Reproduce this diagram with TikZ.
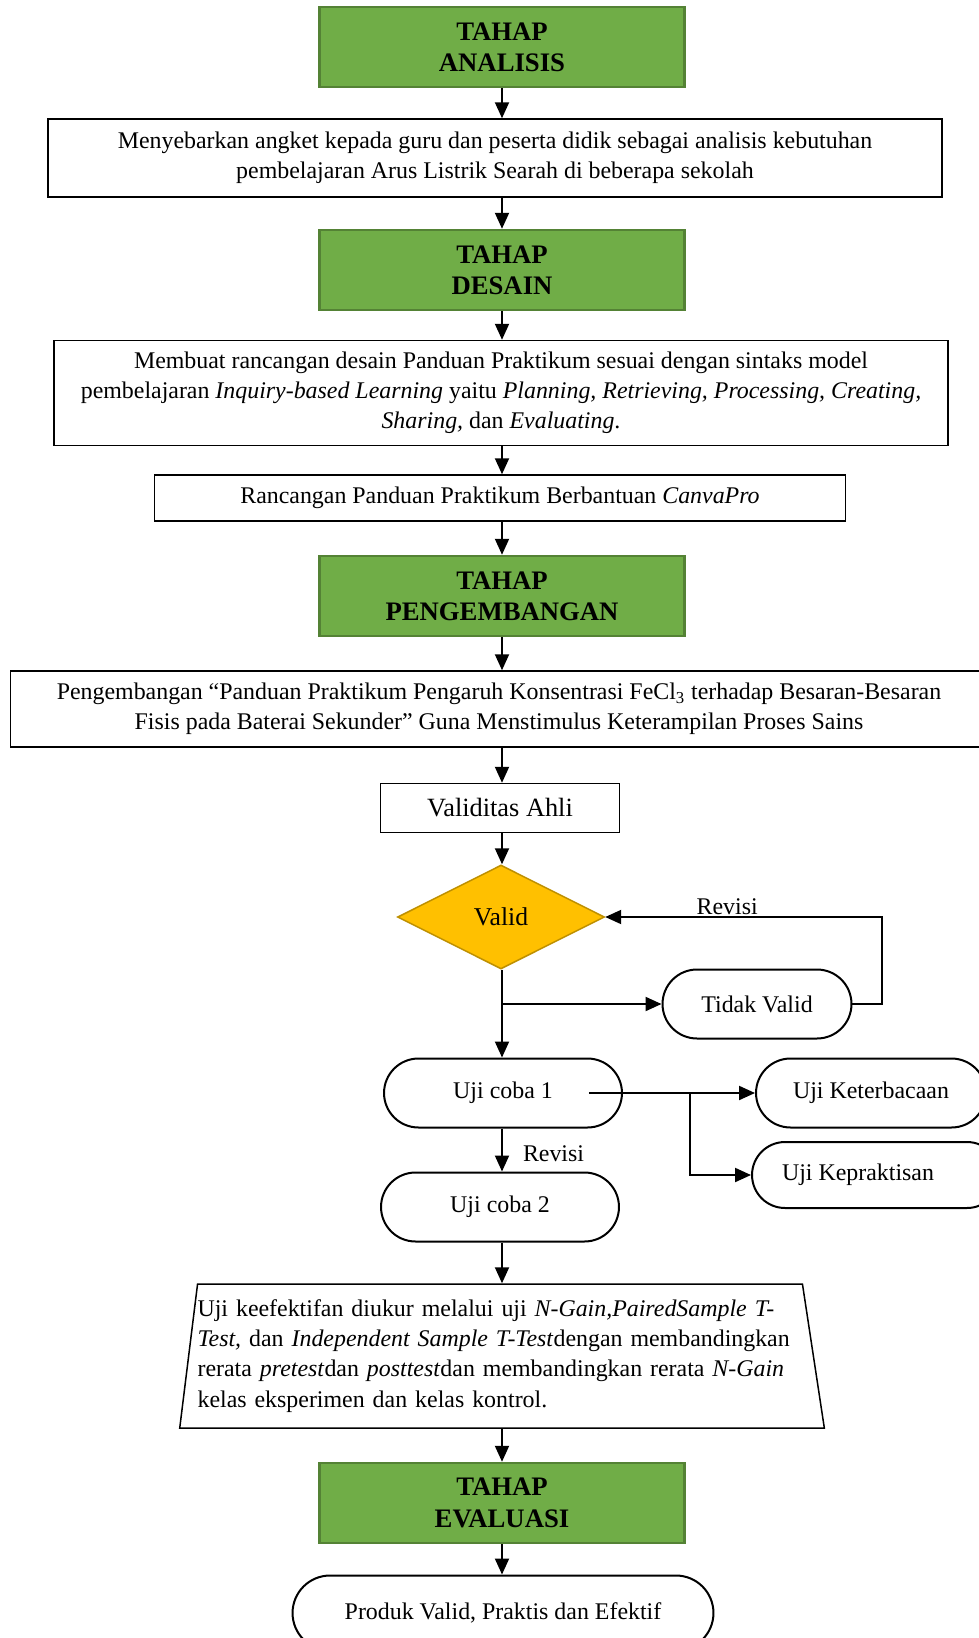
\documentclass[tikz,border=0pt]{standalone}
\usepackage{fontspec}
\setmainfont{Liberation Serif}
\usepackage{tikz}
\usetikzlibrary{arrows.meta}
\usetikzlibrary{shapes.geometric}
\usetikzlibrary{shapes.misc}
\definecolor{tahapfill}{HTML}{70AD47}
\definecolor{tahapline}{HTML}{548235}
\definecolor{validfill}{HTML}{FFC000}
\definecolor{validline}{HTML}{BF9000}
\tikzset{
    base/.style = {font=\fontsize{13.6}{17.2}\selectfont, align=center, inner sep=0},
    lbl/.style = {font=\fontsize{13.6}{17.2}\selectfont, inner sep=0},
    tahap/.style = {base, draw=tahapline, fill=tahapfill, line width=0.05cm, minimum width=7.3cm, minimum height=1.6cm, font=\fontsize{15.2}{17.8}\selectfont\bfseries},
    kotak/.style = {base, draw, line width=0.03cm},
    terminal/.style = {base, draw, shape=rounded rectangle, line width=0.04cm, minimum width=4.76cm, minimum height=1.38cm},
    putusan/.style = {base, draw=validline, fill=validfill, shape=diamond, line width=0.03cm, minimum width=4.14cm, minimum height=2.08cm, font=\fontsize{14.6}{17}\selectfont},
    arr/.style = {line width=0.04cm, -{Triangle[length=0.32cm,width=0.28cm]}}
}

\begin{document}
\begin{tikzpicture}[x=0.02cm,y=-0.02cm]
    \useasboundingbox (0,0) rectangle (979,1638);
    % Tahap
    \node[tahap] (ana) at (502,47) {TAHAP\\ANALISIS};
    \node[tahap] (des) at (502,270) {TAHAP\\DESAIN};
    \node[tahap] (kembang) at (502,596) {TAHAP\\PENGEMBANGAN};
    \node[tahap] (eval) at (502,1503) {TAHAP\\EVALUASI};
    % Kotak proses
    \node[kotak, minimum width=17.88cm, minimum height=1.56cm] (butuh) at (495,158)
        {Menyebarkan angket kepada guru dan peserta didik sebagai analisis kebutuhan\\pembelajaran Arus Listrik Searah di beberapa sekolah};
    \node[kotak, minimum width=17.88cm, minimum height=2.1cm] (rancang) at (501,393)
        {Membuat rancangan desain Panduan Praktikum sesuai dengan sintaks model\\pembelajaran \textit{Inquiry-based Learning} yaitu \textit{Planning, Retrieving, Processing, Creating,}\\\textit{Sharing,} dan \textit{Evaluating}.};
    \node[kotak, minimum width=13.82cm, minimum height=0.92cm] (canva) at (500,498)
        {Rancangan Panduan Praktikum Berbantuan \textit{CanvaPro}};
    \node[kotak, minimum width=19.54cm, minimum height=1.52cm] (fecl) at (499,709)
        {Pengembangan “Panduan Praktikum Pengaruh Konsentrasi FeCl\textsubscript{3} terhadap Besaran-Besaran\\Fisis pada Baterai Sekunder” Guna Menstimulus Keterampilan Proses Sains};
    \node[kotak, minimum width=4.78cm, minimum height=0.98cm, font=\fontsize{15}{17}\selectfont] (ahli) at (500,808) {Validitas Ahli};
    % Validasi
    \node[putusan] (valid) at (501,917) {Valid};
    \node[terminal, minimum width=3.78cm] (tidak) at (757,1004) {Tidak Valid};
    % Uji coba
    \node[terminal] (uji1) at (503,1093) {Uji coba 1};
    \node[terminal] (uji2) at (500,1207) {Uji coba 2};
    \node[terminal, minimum width=4.6cm] (baca) at (871,1093) {Uji Keterbacaan};
    \node[terminal, minimum width=4.96cm, minimum height=1.32cm] (praktis) at (876,1175) {Uji Kepraktisan\hspace*{0.72cm}};
    \node[kotak, shape=trapezium, trapezium left angle=81, trapezium right angle=79, trapezium stretches=true,
          minimum width=12.82cm, minimum height=2.88cm, text width=12.1cm, align=left] (efektif) at (500,1356)
        {Uji keefektifan diukur melalui uji \textit{N-Gain,PairedSample T-}\\\textit{Test,} dan \textit{Independent Sample T-Test}dengan membandingkan\\rerata \textit{pretest}dan \textit{posttest}dan membandingkan rerata \textit{N-Gain}\\kelas eksperimen dan kelas kontrol.};
    \node[terminal, minimum width=8.42cm, minimum height=1.5cm] (produk) at (503,1613) {Produk Valid, Praktis dan Efektif};
    % Alur utama
    \foreach \src/\dest in {ana/butuh,butuh/des,des/rancang,rancang/canva,canva/kembang,kembang/fecl,fecl/ahli,ahli/valid,valid/uji1,uji2/efektif,efektif/eval,eval/produk}
        \draw[arr] (\src.south -| ana) -- (\dest.north -| ana);
    \draw[arr] (uji1.south -| ana) -- node[lbl, right=0.4cm, yshift=-0.08cm] {Revisi} (uji2.north -| ana);
    % Tidak valid
    \coordinate (vsplit) at (valid.south |- tidak.west);
    \draw[arr] (vsplit) -- (tidak.west);
    \draw[arr] (tidak.east) -- ++(30,0) |- node[lbl, above=1pt, pos=0.78] {Revisi} (valid.east);
    % Uji lanjutan
    \coordinate (ustart) at ([xshift=-0.68cm]uji1.east);
    \coordinate (usplit) at (690,1093);
    \draw[arr] (ustart) -- (baca.west);
    \draw[arr] (usplit) |- (praktis.west);
\end{tikzpicture}
\end{document}
